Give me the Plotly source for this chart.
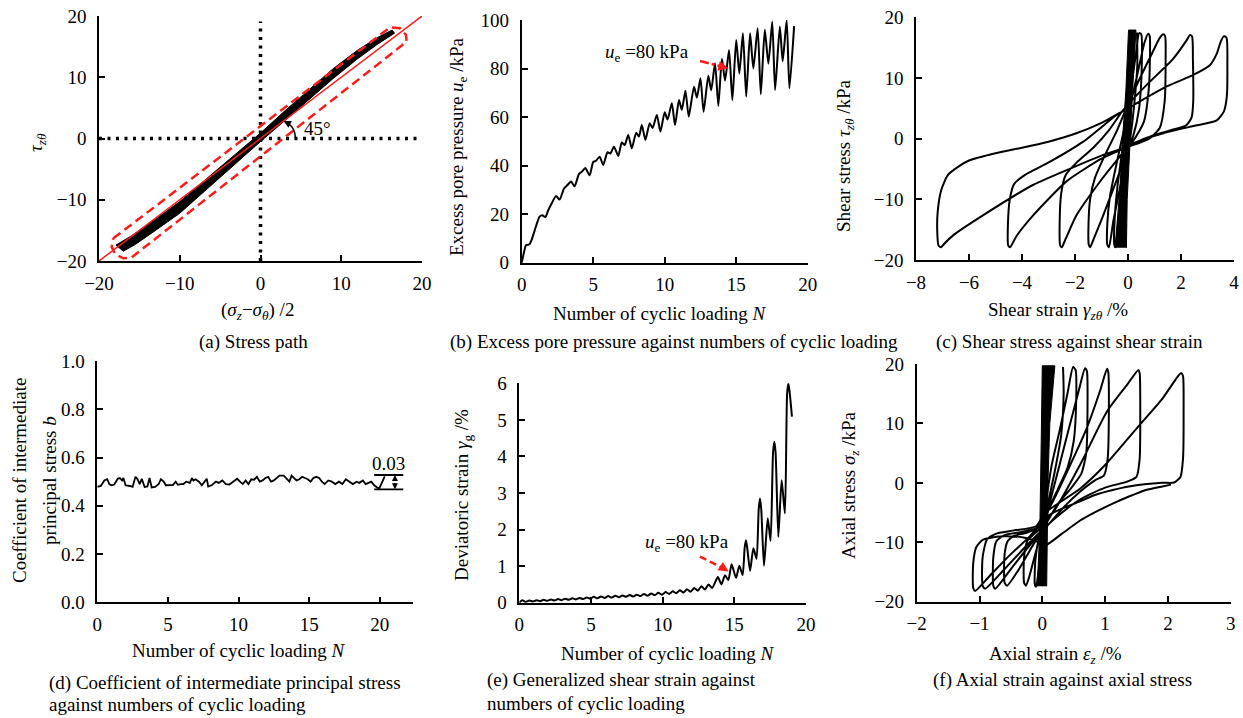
import plotly.graph_objects as go

# ======================= DATA =======================
# (a) stress path: filled band of all cycles (upper edge then lower edge)
a_band_x = [-17.9, -16.0, -13.0, -10.0, -6.0, -3.0, 0.0, 3.0, 6.0, 9.0, 12.0, 14.5, 16.3,
            16.6, 14.5, 12.0, 9.0, 6.0, 3.0, 0.0, -3.0, -6.0, -10.0, -13.0, -15.5, -17.0, -17.9]
a_band_y = [-17.4, -15.9, -13.2, -10.3, -5.8, -2.4, 0.9, 4.5, 8.0, 11.4, 14.4, 16.5, 17.7,
            17.2, 15.4, 13.0, 9.8, 6.3, 2.9, -0.5, -4.0, -7.6, -12.2, -15.0, -17.3, -18.4, -17.4]
a_ref_x = [-20, 20]
a_ref_y = [-20, 20]
a_box_x = [-18.23, 16.04, 17.27, 18.02, 18.10, -15.95, -16.99, -18.02, -18.43, -18.23]
a_box_y = [-16.30, 18.15, 17.99, 16.90, 15.80, -19.40, -19.56, -18.86, -17.67, -16.30]
a_arc_x = [4.30, 4.27, 4.12, 3.85, 3.45]
a_arc_y = [0.00, 0.70, 1.35, 1.95, 2.45]

# (b) excess pore pressure vs N
b_N = [0, 0.15, 0.3, 0.55, 0.7, 1.0, 1.25, 1.45, 1.65, 1.85,
       2.1, 2.4, 2.65, 2.95, 3.2, 3.45, 3.7, 4.0, 4.2, 4.45,
       4.75, 5.0, 5.2, 5.45, 5.7, 6.0, 6.2, 6.45, 6.75, 7.0,
       7.2, 7.45, 7.7, 8.0, 8.2, 8.4, 8.65, 8.95, 9.15, 9.45,
       9.7, 10.0, 10.2, 10.5, 10.72, 11.0, 11.2, 11.45, 11.68, 12.05,
       12.25, 12.5, 12.72, 13.05, 13.25, 13.52, 13.75, 14.0, 14.22, 14.5,
       14.73, 15.0, 15.22, 15.47, 15.7, 15.97, 16.2, 16.5, 16.72, 17.0,
       17.25, 17.52, 17.72, 18.05, 18.25, 18.53, 18.72, 19.05]
b_u = [0, 4, 7.2, 7.6, 9.5, 15, 19, 19.5, 18.8, 21.5,
       24.5, 27.5, 26, 30.5, 32, 33.5, 31.5, 36.5, 37.5, 39,
       36, 41.5, 42, 43.7, 40.3, 45.5, 45, 47.8, 44, 49.5,
       48.5, 52.6, 47.1, 53.5, 52, 56.7, 50.6, 57.5, 55.5, 60.9,
       54, 62, 59, 65.7, 56.7, 67, 63, 70.9, 60.2, 72.5,
       68, 76, 62.2, 77, 71, 82.2, 64.6, 84, 75, 87.6,
       67, 91.8, 78, 94.5, 68.4, 94.5, 80, 96.6, 69.4, 96,
       82, 99.3, 71.2, 97.3, 83, 100, 71.9, 97.5]
b_arrow_N = [12.47, 14.2]
b_arrow_u = [83.1, 80.5]

# (c) shear stress vs shear strain
c_band_x = [-0.49, -0.30, -0.22, -0.08, 0.02, 0.30, 0.20, 0.06, -0.03, -0.06]
c_band_y = [-18.0, -8.0, -1.0, 8.0, 17.9, 17.9, 10.0, -1.0, -10.0, -18.0]
c_strain = [
    0.34, 0.35, 0.22, 0.08, -0.05, -0.22, -0.38, -0.47,
    -0.52, -0.50, -0.40, -0.22, -0.05, 0.12, 0.30, 0.42,
    0.50, 0.52, 0.42, 0.20, 0.02, -0.25, -0.55, -0.72,
    -0.78, -0.78, -0.68, -0.45, -0.15, 0.05, 0.35, 0.62, 0.76,
    0.82, 0.83, 0.78, 0.60, 0.30, 0.05, -0.40, -0.95, -1.32, -1.43,
    -1.48, -1.49, -1.43, -1.25, -0.90, -0.40, -0.10, 0.40, 0.90, 1.20, 1.33,
    1.40, 1.42, 1.38, 1.20, 0.80, 0.30, 0.00, -0.50, -1.06, -1.94, -2.35, -2.50,
    -2.56, -2.58, -2.52, -2.35, -1.95, -1.31, -0.70, -0.20, 0.40, 0.83, 1.71, 2.21, 2.34,
    2.42, 2.45, 2.46, 2.40, 2.20, 1.70, 1.00, 0.30, 0.00, -1.00, -2.31, -3.57, -4.20, -4.45,
    -4.52, -4.53, -4.46, -4.30, -3.90, -2.94, -1.69, -0.43, 0.00, 1.46, 2.46, 3.09, 3.35, 3.50, 3.62,
    3.72, 3.75, 3.73, 3.62, 3.35, 2.60, 1.33, 0.30, 0.00, -1.00, -2.00, -3.57, -5.46, -6.59, -6.95, -7.05,
    -7.15, -7.20, -7.18, -7.05, -6.80, -6.40, -6.00, -5.00, -4.00, -3.00, -2.00, -1.00, -0.30,
]
c_stress = [
    17.5, 12.0, 5.0, 0.0, -3.0, -9.0, -14.5, -17.9,
    -17.4, -13.0, -8.0, -2.0, 3.5, 8.5, 14.0, 17.4,
    17.2, 12.0, 5.0, 0.5, -1.5, -7.0, -13.5, -17.9,
    -17.5, -14.0, -9.5, -4.5, 1.5, 4.9, 10.5, 15.8, 17.3,
    16.9, 14.0, 8.0, 2.8, 0.3, -1.3, -6.5, -12.8, -16.8, -17.9,
    -17.5, -14.0, -10.0, -6.5, -3.0, 1.5, 4.6, 9.5, 14.0, 16.6, 17.2,
    16.9, 13.0, 6.0, 1.8, 0.0, -0.9, -1.4, -4.0, -7.1, -12.6, -16.5, -17.9,
    -17.6, -14.0, -9.0, -6.0, -4.0, -1.5, 1.5, 4.6, 7.5, 9.4, 13.2, 16.2, 17.1,
    16.8, 13.0, 6.0, 3.5, 2.2, 1.5, 0.6, -0.6, -1.3, -3.3, -7.0, -12.6, -16.0, -17.9,
    -17.6, -14.0, -10.0, -7.5, -6.0, -3.8, -0.5, 3.9, 5.0, 8.6, 10.5, 12.1, 14.0, 16.0, 16.9,
    16.6, 12.0, 7.0, 4.5, 3.0, 2.2, 0.9, -0.6, -1.3, -2.8, -4.6, -7.6, -12.6, -15.9, -17.4, -17.9,
    -17.6, -15.0, -12.0, -8.5, -6.0, -4.6, -3.6, -2.4, -1.5, -0.5, 0.8, 2.6, 4.3,
]

# (d) coefficient b vs N
d_N = [0.00, 0.25, 0.50, 0.70, 0.85, 1.00, 1.20, 1.45, 1.60, 1.75,
       1.85, 2.00, 2.30, 2.50, 2.70, 2.85, 3.00, 3.15, 3.35, 3.55,
       3.70, 3.85, 4.10, 4.35, 4.50, 4.70, 4.85, 5.10, 5.35, 5.55,
       5.70, 5.90, 6.10, 6.30, 6.55, 6.70, 6.80, 6.95, 7.20, 7.40,
       7.60, 7.75, 7.85, 8.10, 8.40, 8.60, 8.85, 9.10, 9.35, 9.60,
       9.90, 10.10, 10.30, 10.50, 10.70, 10.90, 11.10, 11.30, 11.50, 11.70,
       11.90, 12.10, 12.30, 12.50, 12.70, 12.90, 13.20, 13.40, 13.60, 13.75,
       13.90, 14.10, 14.30, 14.50, 14.70, 14.90, 15.10, 15.30, 15.50, 15.70,
       15.90, 16.10, 16.35, 16.60, 16.85, 17.10, 17.35, 17.60, 17.85, 18.10,
       18.35, 18.55, 18.80, 19.00, 19.20, 19.40, 19.60, 19.95, 20.35]
d_b = [0.478, 0.482, 0.505, 0.510, 0.490, 0.485, 0.488, 0.512, 0.515, 0.505,
       0.515, 0.485, 0.482, 0.478, 0.520, 0.510, 0.490, 0.512, 0.478, 0.480,
       0.515, 0.476, 0.478, 0.490, 0.510, 0.500, 0.485, 0.487, 0.486, 0.500,
       0.487, 0.490, 0.490, 0.500, 0.495, 0.515, 0.505, 0.510, 0.500, 0.485,
       0.500, 0.512, 0.480, 0.485, 0.500, 0.495, 0.505, 0.490, 0.488, 0.500,
       0.512, 0.500, 0.490, 0.505, 0.490, 0.510, 0.508, 0.520, 0.500, 0.505,
       0.515, 0.520, 0.500, 0.505, 0.515, 0.525, 0.525, 0.510, 0.500, 0.525,
       0.515, 0.505, 0.510, 0.520, 0.515, 0.510, 0.500, 0.515, 0.520, 0.515,
       0.500, 0.490, 0.505, 0.500, 0.490, 0.500, 0.490, 0.510, 0.500, 0.490,
       0.500, 0.495, 0.505, 0.490, 0.495, 0.500, 0.485, 0.470, 0.522]
d_range_N = [19.6, 21.66]
d_range_top = 0.5276
d_range_bot = 0.468
d_range_mid = 21.07

# (e) deviatoric strain vs N
e_N = [0.00, 0.20, 0.45, 0.70, 0.95, 1.20, 1.45, 1.70, 1.95, 2.20,
       2.45, 2.70, 2.95, 3.20, 3.45, 3.70, 3.95, 4.20, 4.45, 4.70,
       4.95, 5.20, 5.45, 5.70, 5.95, 6.20, 6.45, 6.70, 6.95, 7.20,
       7.45, 7.70, 7.95, 8.20, 8.45, 8.70, 8.95, 9.20, 9.45, 9.70,
       9.95, 10.20, 10.45, 10.70, 10.95, 11.20, 11.45, 11.70, 11.95, 12.20,
       12.45, 12.70, 12.95, 13.20, 13.45, 13.85, 14.10, 14.35, 14.58, 14.81,
       15.12, 15.35, 15.58, 15.72, 15.81, 15.90, 16.10, 16.33, 16.55, 16.70,
       16.79, 16.88, 17.07, 17.33, 17.53, 17.70, 17.79, 17.88, 18.07, 18.30,
       18.53, 18.68, 18.77, 18.86, 19.02]
e_g = [0.00, 0.07, 0.02, 0.06, 0.03, 0.07, 0.04, 0.08, 0.05, 0.09,
       0.06, 0.10, 0.07, 0.11, 0.08, 0.12, 0.09, 0.13, 0.10, 0.14,
       0.11, 0.16, 0.12, 0.17, 0.13, 0.18, 0.14, 0.19, 0.15, 0.20,
       0.16, 0.21, 0.17, 0.22, 0.18, 0.24, 0.19, 0.25, 0.21, 0.27,
       0.22, 0.29, 0.24, 0.31, 0.26, 0.34, 0.28, 0.37, 0.30, 0.40,
       0.33, 0.45, 0.36, 0.50, 0.40, 0.70, 0.50, 0.75, 0.62, 1.05,
       0.68, 1.01, 0.76, 1.50, 1.71, 1.50, 0.87, 1.49, 1.20, 2.55,
       2.85, 2.55, 1.01, 2.31, 1.69, 4.10, 4.40, 4.10, 1.80, 3.35,
       2.44, 5.70, 6.00, 5.75, 5.09]
e_arrow_N = [12.6, 14.35]
e_arrow_g = [1.26, 0.92]

# (f) axial stress vs axial strain
f_band_x = [-0.08, -0.04, -0.02, 0.00, 0.20, 0.12, 0.09, 0.08, 0.07]
f_band_y = [-17.4, -8.0, 5.0, 19.7, 19.7, 10.0, 0.0, -8.0, -17.4]
f_strain = [
    0.33, 0.34, 0.30, 0.20, 0.10, 0.04, -0.02, -0.06, -0.10,
    -0.12, -0.11, -0.06, 0.00, 0.06, 0.15, 0.28, 0.40, 0.49,
    0.53, 0.54, 0.50, 0.40, 0.25, 0.10, 0.02, -0.10, -0.20, -0.26,
    -0.29, -0.29, -0.24, -0.15, -0.02, 0.10, 0.25, 0.42, 0.58, 0.68,
    0.71, 0.72, 0.70, 0.62, 0.45, 0.25, 0.08, -0.15, -0.40, -0.56,
    -0.60, -0.60, -0.55, -0.45, -0.25, -0.05, 0.15, 0.40, 0.70, 0.92, 1.03,
    1.05, 1.06, 1.04, 0.98, 0.85, 0.60, 0.35, 0.10, -0.20, -0.50, -0.75,
    -0.78, -0.78, -0.73, -0.60, -0.35, -0.05, 0.20, 0.60, 1.03, 1.35, 1.53,
    1.55, 1.56, 1.55, 1.50, 1.35, 1.00, 0.60, 0.20, -0.20, -0.60, -0.91,
    -0.95, -0.95, -0.88, -0.72, -0.45, -0.10, 0.05, 0.60, 1.00, 1.53, 1.90, 2.15, 2.21,
    2.24, 2.25, 2.24, 2.20, 2.10, 1.91, 1.38, 1.12, 0.85, 0.58, 0.32, 0.10, -0.20, -0.55, -0.85, -1.07,
    -1.10, -1.10, -1.05, -0.95, -0.80, -0.60, -0.30, -0.05, 0.05, 0.32, 0.58, 0.85, 1.12, 1.38, 1.65, 1.91, 2.05,
]
f_stress = [
    19.5, 15.0, 8.0, 2.0, -3.0, -7.0, -11.0, -15.0, -17.5,
    -17.0, -13.0, -9.5, -7.0, -3.0, 3.0, 9.0, 15.0, 19.5,
    19.0, 14.0, 7.0, 2.5, -1.0, -4.5, -7.5, -11.5, -15.5, -17.3,
    -16.8, -12.5, -9.8, -8.8, -7.5, -4.0, 2.0, 9.0, 15.5, 19.3,
    18.8, 13.0, 5.0, 1.5, -1.0, -3.5, -6.5, -10.5, -15.0, -17.3,
    -16.8, -12.0, -9.8, -8.9, -8.4, -7.3, -3.5, 2.0, 9.0, 15.5, 19.2,
    18.7, 12.0, 4.0, 1.2, 0.5, -1.5, -4.0, -7.0, -10.5, -14.5, -17.8,
    -17.3, -12.5, -9.8, -8.8, -8.3, -7.5, -4.5, 3.0, 12.0, 16.5, 19.0,
    18.5, 12.0, 4.0, 1.0, 0.2, -0.8, -2.8, -6.0, -10.0, -14.5, -17.8,
    -17.3, -12.5, -9.5, -8.5, -8.0, -7.3, -5.0, -1.0, 3.0, 9.5, 14.0, 17.8, 18.5,
    18.0, 12.0, 4.0, 1.0, 0.05, 0.0, -0.6, -1.2, -2.0, -3.2, -4.3, -5.5, -9.0, -12.5, -15.8, -18.2,
    -17.7, -13.5, -10.8, -9.6, -9.2, -9.0, -9.2, -10.0, -10.5, -8.5, -6.5, -4.9, -3.5, -2.3, -1.2, -0.6, -0.3,
]

# ======================= LAYOUT =======================
W, H = 1243, 718
FONT = "Liberation Serif"
FS = 19
BLACK = "black"
RED = "#ff1a1a"

# pixel boxes of plotting areas: (left, right, top, bottom)
boxes = {
    1: (99, 422, 16, 261),
    2: (521.7, 807.7, 20, 262.7),
    3: (916, 1234, 17.3, 260),
    4: (97.3, 413, 361, 602.3),
    5: (519.3, 806, 383.3, 602.7),
    6: (916.7, 1230.7, 364, 601.7),
}
ranges = {
    1: ([-20, 20], [-20, 20], 10, 10),
    2: ([0, 20], [0, 100], 5, 20),
    3: ([-8, 4], [-20, 20], 2, 10),
    4: ([0, 22.35], [0, 1], 5, 0.2),
    5: ([0, 20], [0, 6], 5, 1),
    6: ([-2, 3], [-20, 20], 1, 10),
}

fig = go.Figure()


def ax(i):
    return ("x" if i == 1 else f"x{i}"), ("y" if i == 1 else f"y{i}")


def line(i, x, y, color=BLACK, width=2, dash=None, shape="linear", smoothing=None, fill=None):
    xa, ya = ax(i)
    ln = dict(color=color, width=width, shape=shape)
    if dash:
        ln["dash"] = dash
    if smoothing is not None:
        ln["smoothing"] = smoothing
    kw = {}
    if fill:
        kw = dict(fill="toself", fillcolor=fill)
    fig.add_trace(go.Scatter(x=x, y=y, mode="lines", line=ln, xaxis=xa, yaxis=ya,
                             hoverinfo="skip", showlegend=False, **kw))


# (a)
line(1, [0, 0], [-20, 19.1], width=3.5, dash="3px,5.5px")
line(1, [-20, 20], [0, 0], width=3.5, dash="3px,5.5px")
line(1, a_band_x, a_band_y, width=1, fill=BLACK)
line(1, a_ref_x, a_ref_y, color=RED, width=1.5)
line(1, a_box_x, a_box_y, color=RED, width=2.5, dash="9px,5px")
line(1, a_arc_x, a_arc_y, width=1.5, shape="spline")

# (b)
line(2, b_N, b_u, width=2, shape="spline", smoothing=0.6)
line(2, b_arrow_N, b_arrow_u, color=RED, width=2.5, dash="dashdot")

# (c)
line(3, c_band_x, c_band_y, width=1, fill=BLACK)
line(3, c_strain, c_stress, width=2, shape="spline", smoothing=0.6)

# (d)
line(4, d_N, d_b, width=1.8)
line(4, d_range_N, [d_range_top, d_range_top], width=1.8)
line(4, d_range_N, [d_range_bot, d_range_bot], width=1.8)

# (e)
line(5, e_N, e_g, width=2, shape="spline", smoothing=0.6)
line(5, e_arrow_N, e_arrow_g, color=RED, width=2.5, dash="7px,4px")

# (f)
line(6, f_band_x, f_band_y, width=1, fill=BLACK)
line(6, f_strain, f_stress, width=2, shape="spline", smoothing=0.6)

layout = dict(width=W, height=H, margin=dict(l=0, r=0, t=0, b=0, autoexpand=False),
              paper_bgcolor="white", plot_bgcolor="white", showlegend=False,
              font=dict(family=FONT, size=FS, color=BLACK))

for i, (l, r, t, b) in boxes.items():
    xr, yr, dx, dy = ranges[i]
    xa, ya = ax(i)
    xkey = "xaxis" if i == 1 else f"xaxis{i}"
    ykey = "yaxis" if i == 1 else f"yaxis{i}"
    common = dict(showline=True, linecolor=BLACK, linewidth=1.6, ticks="inside", ticklen=6,
                  tickwidth=1.6, tickcolor=BLACK, showgrid=False, zeroline=False, automargin=False,
                  tickfont=dict(family=FONT, size=FS, color=BLACK), fixedrange=True)
    layout[xkey] = dict(domain=[l / W, r / W], range=xr, dtick=dx, tick0=0, anchor=ya,
                        ticklabelstandoff=4, **common)
    layout[ykey] = dict(domain=[1 - b / H, 1 - t / H], range=yr, dtick=dy, tick0=0, anchor=xa,
                        ticklabelstandoff=7, **common)
layout["yaxis4"]["tickformat"] = ".1f"
fig.update_layout(**layout)

anns = []


def txt(text, px, py, angle=0, xanchor="center", size=FS, color=BLACK):
    anns.append(dict(text=text, x=px / W, y=1 - py / H, xref="paper", yref="paper",
                     showarrow=False, textangle=angle, xanchor=xanchor, yanchor="middle",
                     font=dict(family=FONT, size=size, color=color)))


# axis titles
txt("<i>τ</i><sub><i>zθ</i></sub>", 37, 143, angle=-90)
txt("(<i>σ</i><sub><i>z</i></sub>−<i>σ</i><sub><i>θ</i></sub>) /2", 257, 311)
txt("Excess pore pressure <i>u</i><sub>e</sub> /kPa", 458, 147, angle=-90)
txt("Number of cyclic loading <i>N</i>", 659, 313)
txt("Shear stress <i>τ</i><sub><i>zθ</i></sub> /kPa", 845, 155, angle=-90)
txt("Shear strain <i>γ</i><sub><i>zθ</i></sub> /%", 1058, 311)
txt("Coefficient of intermediate", 19, 481, angle=-90)
txt("principal stress <i>b</i>", 49, 481, angle=-90)
txt("Number of cyclic loading <i>N</i>", 238, 650)
txt("Deviatoric strain <i>γ</i><sub>g</sub> /%", 463, 495, angle=-90)
txt("Number of cyclic loading <i>N</i>", 668, 653)
txt("Axial stress <i>σ</i><sub><i>z</i></sub> /kPa", 850, 485, angle=-90)
txt("Axial strain <i>ε</i><sub><i>z</i></sub> /%", 1055, 655)

# captions
txt("(a) Stress path", 253, 342)
txt("(b) Excess pore pressure against numbers of cyclic loading", 674, 342)
txt("(c) Shear stress against shear strain", 1069, 342)
txt("(d) Coefficient of intermediate principal stress", 47, 683, xanchor="left")
txt("against numbers of cyclic loading", 47, 704, xanchor="left")
txt("(e) Generalized shear strain against", 485, 680, xanchor="left")
txt("numbers of cyclic loading", 485, 703, xanchor="left")
txt("(f) Axial strain against axial stress", 1062, 680)

# in-plot labels
anns.append(dict(text="45°", x=7.0, y=1.7, xref="x", yref="y", showarrow=False,
                 font=dict(family=FONT, size=FS, color=BLACK)))
anns.append(dict(text="", x=2.85, y=2.85, ax=3.45, ay=2.45, xref="x", yref="y", axref="x", ayref="y",
                 showarrow=True, arrowhead=2, arrowsize=1, arrowwidth=1.5, arrowcolor=BLACK))
anns.append(dict(text="<i>u</i><sub>e</sub> =80 kPa", x=8.76, y=86.4, xref="x2", yref="y2",
                 showarrow=False, font=dict(family=FONT, size=FS, color=BLACK)))
anns.append(dict(text="", x=14.45, y=80.1, ax=14.1, ay=80.6, xref="x2", yref="y2", axref="x2", ayref="y2",
                 showarrow=True, arrowhead=2, arrowsize=1, arrowwidth=2, arrowcolor=RED))
anns.append(dict(text="<i>u</i><sub>e</sub> =80 kPa", x=11.7, y=1.62, xref="x5", yref="y5",
                 showarrow=False, font=dict(family=FONT, size=FS, color=BLACK)))
anns.append(dict(text="", x=14.6, y=0.85, ax=14.25, ay=0.94, xref="x5", yref="y5", axref="x5", ayref="y5",
                 showarrow=True, arrowhead=2, arrowsize=1, arrowwidth=2, arrowcolor=RED))
anns.append(dict(text="0.03", x=20.6, y=0.576, xref="x4", yref="y4", showarrow=False,
                 font=dict(family=FONT, size=FS, color=BLACK)))
anns.append(dict(text="", x=d_range_mid, y=d_range_top, ax=d_range_mid, ay=0.50, xref="x4", yref="y4",
                 axref="x4", ayref="y4", showarrow=True, arrowhead=2, arrowsize=0.8, arrowwidth=1.5,
                 arrowcolor=BLACK))
anns.append(dict(text="", x=d_range_mid, y=d_range_bot, ax=d_range_mid, ay=0.50, xref="x4", yref="y4",
                 axref="x4", ayref="y4", showarrow=True, arrowhead=2, arrowsize=0.8, arrowwidth=1.5,
                 arrowcolor=BLACK))

fig.update_layout(annotations=anns)
fig.write_html("out.html")
